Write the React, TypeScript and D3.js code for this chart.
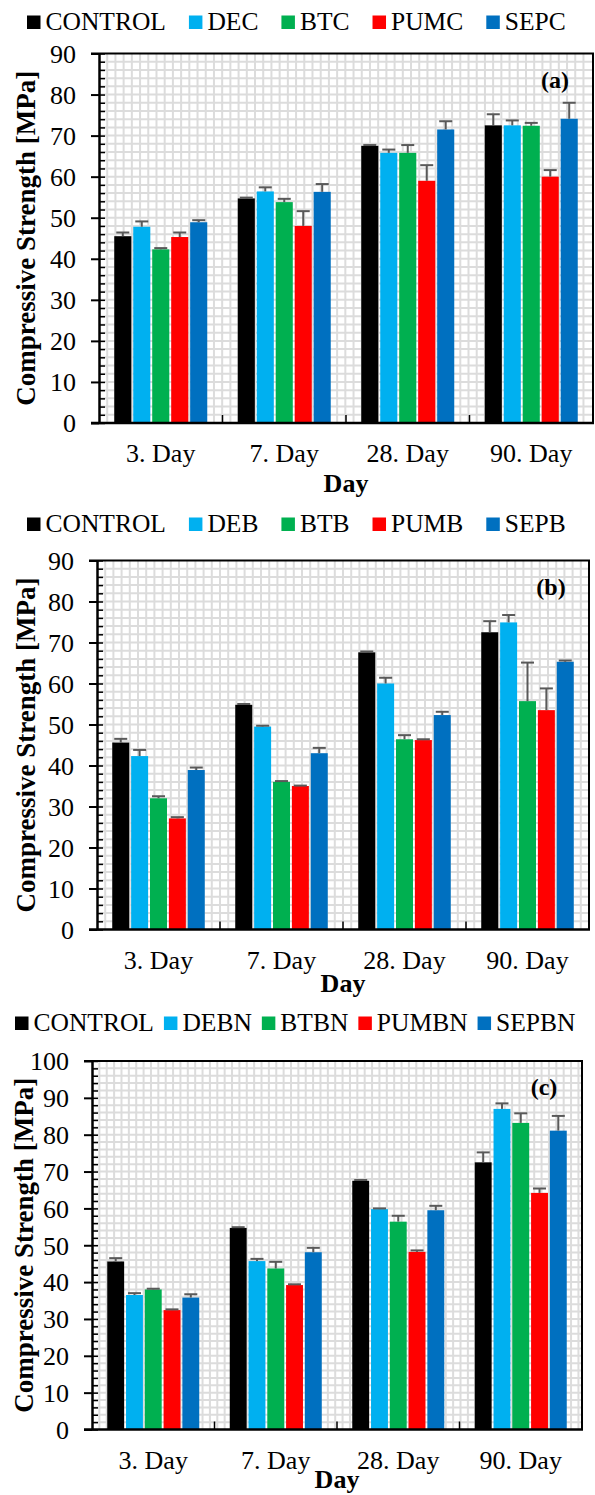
import React, { useRef, useEffect } from "react";
import * as d3 from "d3";

const days = ["3. Day", "7. Day", "28. Day", "90. Day"];
const colors = ["#000000", "#00B0F0", "#00B050", "#FF0000", "#0070C0"];

// (a) plain
const namesA = ["CONTROL", "DEC", "BTC", "PUMC", "SEPC"];
const controlA = [45.5, 54.7, 67.5, 72.5];
const decA = [47.8, 56.4, 65.8, 72.5];
const btcA = [42.3, 53.8, 65.8, 72.4];
const pumcA = [45.3, 48.0, 59.0, 60.0];
const sepcA = [48.9, 56.3, 71.5, 74.1];
const controlErrA = [0.9, 0.2, 0.2, 2.7];
const decErrA = [1.3, 1.0, 0.8, 1.2];
const btcErrA = [0.3, 0.8, 1.9, 0.7];
const pumcErrA = [1.1, 3.6, 3.8, 1.6];
const sepcErrA = [0.5, 1.9, 2.0, 3.9];

// (b)
const namesB = ["CONTROL", "DEB", "BTB", "PUMB", "SEPB"];
const controlB = [45.6, 54.8, 67.6, 72.5];
const debB = [42.3, 49.5, 60.0, 74.9];
const btbB = [32.0, 36.0, 46.4, 55.7];
const pumbB = [27.1, 35.0, 46.2, 53.5];
const sepbB = [38.9, 43.0, 52.3, 65.3];
const controlErrB = [0.9, 0.2, 0.2, 2.7];
const debErrB = [1.5, 0.2, 1.4, 1.8];
const btbErrB = [0.5, 0.2, 1.0, 9.4];
const pumbErrB = [0.3, 0.1, 0.2, 5.3];
const sepbErrB = [0.6, 1.3, 0.8, 0.3];

// (c)
const namesC = ["CONTROL", "DEBN", "BTBN", "PUMBN", "SEPBN"];
const controlC = [45.6, 54.7, 67.5, 72.5];
const debnC = [36.5, 45.7, 59.8, 87.0];
const btbnC = [38.0, 43.7, 56.4, 83.2];
const pumbnC = [32.4, 39.2, 48.2, 64.2];
const sepbnC = [35.8, 48.1, 59.5, 81.1];
const controlErrC = [0.9, 0.2, 0.2, 2.7];
const debnErrC = [0.5, 0.6, 0.2, 1.5];
const btbnErrC = [0.2, 1.8, 1.6, 2.6];
const pumbnErrC = [0.2, 0.2, 0.4, 1.2];
const sepbnErrC = [0.9, 1.2, 1.2, 4.0];

const FONT = "'Liberation Serif', 'Times New Roman', serif";

const panels = [
  {
    names: namesA,
    values: [controlA, decA, btcA, pumcA, sepcA],
    errors: [controlErrA, decErrA, btcErrA, pumcErrA, sepcErrA],
    yMax: 90, label: "(a)",
    top: 53.5, bottom: 423, left: 99, right: 593,
    legendY: 30, legendX: 27, legendGap: 23, titleX: 35, dayY: 69,
  },
  {
    names: namesB,
    values: [controlB, debB, btbB, pumbB, sepbB],
    errors: [controlErrB, debErrB, btbErrB, pumbErrB, sepbErrB],
    yMax: 90, label: "(b)",
    top: 560.5, bottom: 929.5, left: 97, right: 589,
    legendY: 532, legendX: 27, legendGap: 23, titleX: 35, dayY: 62,
  },
  {
    names: namesC,
    values: [controlC, debnC, btbnC, pumbnC, sepbnC],
    errors: [controlErrC, debnErrC, btbnErrC, pumbnErrC, sepbnErrC],
    yMax: 100, label: "(c)",
    top: 1061, bottom: 1429.5, left: 92, right: 582,
    legendY: 1031, legendX: 15, legendGap: 10, titleX: 33, dayY: 58,
  },
];

export default function App() {
  const svgRef = useRef(null);

  useEffect(() => {
    const svg = d3.select(svgRef.current);
    svg.selectAll("*").remove();

    panels.forEach((p) => {
      const g = svg.append("g");
      const y = d3.scaleLinear().domain([0, p.yMax]).range([p.bottom, p.top]);
      const x0 = d3.scaleBand().domain(days).range([p.left, p.right]);
      const x1 = d3
        .scaleBand()
        .domain(p.names)
        .range([15.25, x0.bandwidth() - 15.25])
        .paddingInner(0.1);

      // grid (2 MPa steps, square cells)
      const step = y(0) - y(2);
      g.selectAll(".hgrid")
        .data(d3.range(2, p.yMax, 2))
        .join("line")
        .attr("x1", p.left)
        .attr("x2", p.right)
        .attr("y1", (d) => y(d))
        .attr("y2", (d) => y(d))
        .attr("stroke", "#dcdcdc")
        .attr("stroke-width", 2);
      g.selectAll(".vgrid")
        .data(d3.range(p.left + step, p.right - 2, step))
        .join("line")
        .attr("x1", (d) => d)
        .attr("x2", (d) => d)
        .attr("y1", p.top)
        .attr("y2", p.bottom)
        .attr("stroke", "#dcdcdc")
        .attr("stroke-width", 2);

      // bars
      const groups = g
        .selectAll(".grp")
        .data(days)
        .join("g")
        .attr("transform", (d) => `translate(${x0(d)},0)`);

      groups
        .selectAll("rect")
        .data((d, i) => p.names.map((n, s) => ({ n, s, v: p.values[s][i], e: p.errors[s][i] })))
        .join("rect")
        .attr("x", (d) => x1(d.n))
        .attr("y", (d) => y(d.v))
        .attr("width", x1.bandwidth())
        .attr("height", (d) => y(0) - y(d.v))
        .attr("fill", (d) => colors[d.s]);

      // error bars (positive only)
      const eb = groups
        .selectAll(".err")
        .data((d, i) => p.names.map((n, s) => ({ n, v: p.values[s][i], e: p.errors[s][i] })))
        .join("g")
        .attr("stroke", "#595959")
        .attr("stroke-width", 2);
      eb.append("line")
        .attr("x1", (d) => x1(d.n) + x1.bandwidth() / 2)
        .attr("x2", (d) => x1(d.n) + x1.bandwidth() / 2)
        .attr("y1", (d) => y(d.v))
        .attr("y2", (d) => y(d.v + d.e));
      eb.append("line")
        .attr("x1", (d) => x1(d.n) + x1.bandwidth() / 2 - 6.5)
        .attr("x2", (d) => x1(d.n) + x1.bandwidth() / 2 + 6.5)
        .attr("y1", (d) => y(d.v + d.e))
        .attr("y2", (d) => y(d.v + d.e));

      // frame top / right
      g.append("path")
        .attr("d", `M${p.left - 8},${p.top}H${p.right}V${p.bottom}`)
        .attr("fill", "none")
        .attr("stroke", "#000")
        .attr("stroke-width", 2);

      // minor y ticks inside
      g.append("g")
        .attr("transform", `translate(${p.left},0)`)
        .call(d3.axisRight(y).tickValues(d3.range(0, p.yMax + 0.1, 2)).tickSize(6).tickFormat(() => ""))
        .call((a) => a.select(".domain").remove())
        .call((a) => a.selectAll("line").attr("stroke", "#000").attr("stroke-width", 1.5));

      // y axis
      g.append("g")
        .attr("transform", `translate(${p.left},0)`)
        .call(d3.axisLeft(y).tickValues(d3.range(0, p.yMax + 0.1, 10)).tickSize(8).tickSizeOuter(0).tickPadding(15))
        .call((a) => a.select(".domain").attr("stroke", "#000").attr("stroke-width", 2.5))
        .call((a) => a.selectAll("line").attr("stroke", "#000").attr("stroke-width", 2))
        .call((a) =>
          a.selectAll("text").attr("font-family", FONT).attr("font-size", 26).attr("fill", "#000").attr("dy", "0.34em")
        );

      // x axis line
      g.append("line")
        .attr("x1", p.left - 8)
        .attr("x2", p.right + 1)
        .attr("y1", p.bottom)
        .attr("y2", p.bottom)
        .attr("stroke", "#000")
        .attr("stroke-width", 2.5);

      // category boundary ticks (inside)
      g.selectAll(".xtick")
        .data(days.slice(1))
        .join("line")
        .attr("x1", (d) => x0(d))
        .attr("x2", (d) => x0(d))
        .attr("y1", p.bottom)
        .attr("y2", p.bottom - 8)
        .attr("stroke", "#000")
        .attr("stroke-width", 1.5);

      // x labels
      g.append("g")
        .attr("transform", `translate(0,${p.bottom})`)
        .call(d3.axisBottom(x0).tickSize(0))
        .call((a) => a.select(".domain").remove())
        .call((a) =>
          a
            .selectAll("text")
            .attr("font-family", FONT)
            .attr("font-size", 26)
            .attr("fill", "#000")
            .attr("dy", null)
            .attr("y", 39)
        );

      // axis titles
      g.append("text")
        .attr("x", (p.left + p.right) / 2)
        .attr("y", p.bottom + p.dayY)
        .attr("text-anchor", "middle")
        .attr("font-family", FONT)
        .attr("font-weight", "bold")
        .attr("font-size", 26)
        .text("Day");

      g.append("text")
        .attr("transform", `translate(${p.titleX},${(p.top + p.bottom) / 2}) rotate(-90)`)
        .attr("text-anchor", "middle")
        .attr("font-family", FONT)
        .attr("font-weight", "bold")
        .attr("font-size", 27)
        .text("Compressive Strength [MPa]");

      // panel label
      g.append("text")
        .attr("x", p.right - 38)
        .attr("y", p.top + 34)
        .attr("text-anchor", "middle")
        .attr("font-family", FONT)
        .attr("font-weight", "bold")
        .attr("font-size", 24)
        .text(p.label);

      // legend
      let cur = p.legendX;
      p.names.forEach((n, s) => {
        g.append("rect")
          .attr("x", cur)
          .attr("y", p.legendY - 14.5)
          .attr("width", 13.5)
          .attr("height", 13.5)
          .attr("fill", colors[s]);
        const t = g
          .append("text")
          .attr("x", cur + 18.5)
          .attr("y", p.legendY)
          .attr("font-family", FONT)
          .attr("font-size", 25.5)
          .attr("fill", "#000")
          .text(n);
        const w = t.node().getComputedTextLength();
        cur += 18.5 + w + p.legendGap;
      });
    });
  }, []);

  return (
    <svg
      ref={svgRef}
      width={595}
      height={1495}
      style={{ position: "absolute", left: 0, top: 0, background: "#fff" }}
    ></svg>
  );
}
